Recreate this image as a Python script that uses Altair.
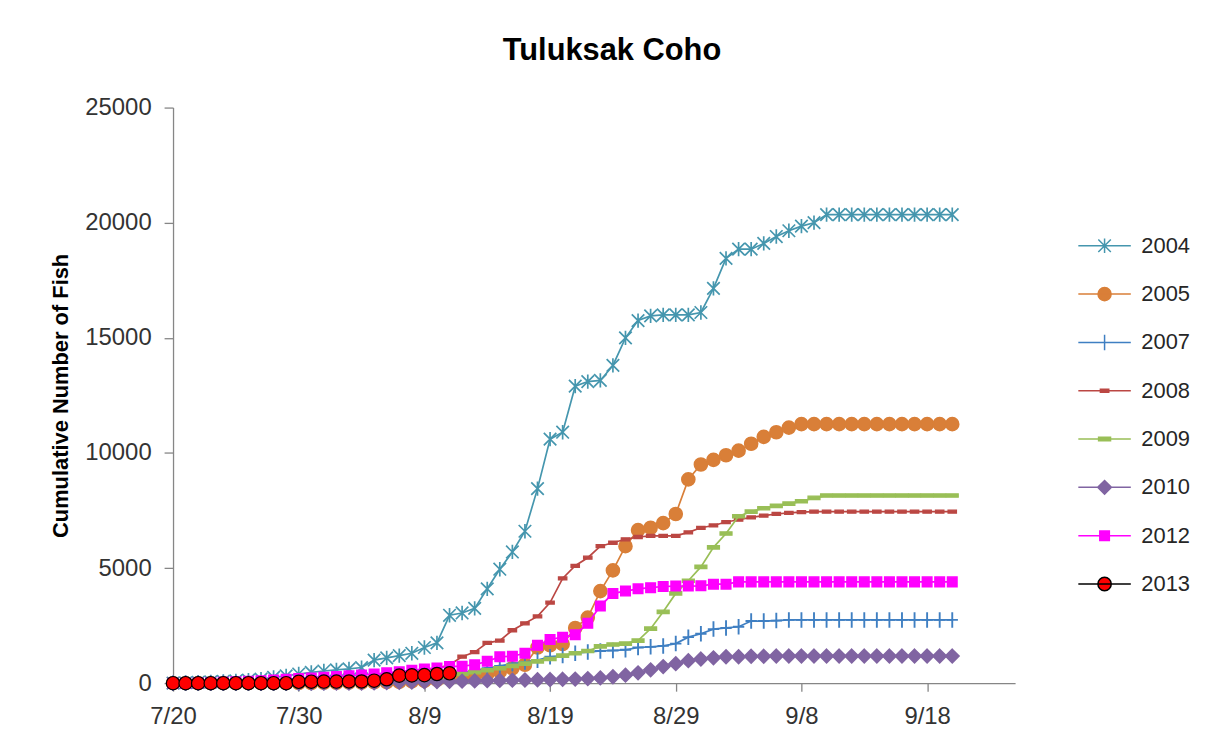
import altair as alt
import pandas as pd

# ---------------- data ----------------
SERIES = ["2004", "2005", "2007", "2008", "2009", "2010", "2012", "2013"]
START = (2013, 7, 20)          # first day of the daily series
AXIS_END = (2013, 9, 25)       # end of the x axis
TICK_LABELS = ["7/20", "7/30", "8/9", "8/19", "8/29", "9/8", "9/18"]
Y_TICKS = [0, 5000, 10000, 15000, 20000, 25000]

V2004 = [0, 20, 40, 60, 80, 100, 130, 180, 250, 320, 400, 470, 530, 580, 620, 680,
         1000, 1100, 1200, 1300, 1550, 1750, 2950, 3050, 3250, 4100, 4950, 5700, 6600, 8450, 10600, 10900,
         12900, 13100, 13150, 13800, 15000, 15750, 15950, 16000, 16000, 16000, 16100, 17150, 18450, 18850, 18850, 19100,
         19400, 19650, 19850, 20000, 20350, 20350, 20350, 20350, 20350, 20350, 20350, 20350, 20350, 20350, 20350]
V2005 = [0, 0, 0, 0, 0, 0, 0, 0, 0, 0, 10, 10, 20, 20, 30, 30, 40, 50, 60, 80,
         100, 150, 200, 250, 300, 400, 500, 650, 800, 1550, 1650, 1700,
         2400, 2850, 4000, 4900, 5950, 6650, 6750, 6950, 7350, 8850, 9500, 9700, 9900, 10100, 10400, 10700,
         10900, 11100, 11250, 11250, 11250, 11250, 11250, 11250, 11250, 11250, 11250, 11250, 11250, 11250, 11250]
V2007 = [0, 0, 0, 0, 0, 0, 0, 0, 0, 0, 10, 20, 30, 40, 50, 60, 70, 80, 90, 100,
         150, 250, 350, 450, 550, 650, 750, 850, 920, 1000, 1150, 1200,
         1300, 1350, 1400, 1420, 1450, 1550, 1580, 1620, 1720, 2000, 2150, 2350, 2400, 2450, 2700, 2700,
         2720, 2750, 2750, 2750, 2750, 2750, 2750, 2750, 2750, 2750, 2750, 2750, 2750, 2750, 2750]
V2008 = [0, 0, 0, 10, 20, 30, 40, 50, 60, 80, 100, 120, 150, 180, 220, 260, 320, 380, 440, 500,
         560, 650, 800, 1150, 1350, 1750, 1850, 2300, 2600, 2900, 3500, 4550,
         5100, 5450, 5950, 6100, 6250, 6350, 6400, 6400, 6400, 6550, 6750, 6850, 7000, 7100, 7200, 7280,
         7350, 7400, 7430, 7450, 7450, 7450, 7450, 7450, 7450, 7450, 7450, 7450, 7450, 7450, 7450]
V2009 = [0, 0, 0, 0, 0, 0, 0, 0, 0, 0, 0, 0, 0, 0, 0, 10, 20, 40, 60, 90,
         150, 250, 330, 400, 480, 560, 650, 750, 850, 950, 1050, 1200,
         1300, 1400, 1600, 1680, 1720, 1850, 2370, 3100, 3900, 4450, 5050, 5900, 6500, 7250, 7450, 7600,
         7700, 7800, 7900, 8050, 8150, 8150, 8150, 8150, 8150, 8150, 8150, 8150, 8150, 8150, 8150]
V2010 = [0, 0, 0, 0, 0, 0, 0, 0, 0, 0, 0, 0, 0, 0, 0, 10, 20, 30, 40, 50,
         60, 70, 80, 90, 100, 110, 120, 130, 140, 150, 160, 170,
         180, 200, 230, 280, 350, 450, 580, 720, 850, 980, 1050, 1100, 1150, 1150, 1170, 1170,
         1180, 1180, 1180, 1180, 1180, 1180, 1180, 1180, 1180, 1180, 1180, 1180, 1180, 1180, 1180]
V2012 = [0, 0, 10, 20, 40, 60, 80, 110, 140, 170, 200, 230, 260, 290, 320, 360,
         400, 450, 500, 560, 620, 660, 720, 740, 800, 950, 1150, 1170, 1300, 1650, 1900, 2000,
         2100, 2600, 3350, 3900, 4000, 4100, 4150, 4200, 4220, 4220, 4230, 4300, 4300, 4400, 4400, 4400,
         4400, 4400, 4400, 4400, 4400, 4400, 4400, 4400, 4400, 4400, 4400, 4400, 4400, 4400, 4400]
V2013 = [0, 0, 0, 0, 0, 0, 0, 0, 0, 0, 60, 65, 70, 70, 75, 75, 110, 170, 330, 340, 350, 400, 430]

VALUES = {"2004": V2004, "2005": V2005, "2007": V2007, "2008": V2008,
          "2009": V2009, "2010": V2010, "2012": V2012, "2013": V2013}

# ---------------- styles ----------------
LINE_COLORS = ["#4596ae", "#d97f38", "#3f7fc2", "#bb4743", "#99bf57", "#8064a2", "#ff00ff", "#000000"]
FILL_COLORS = ["#4596ae", "#d97f38", "#3f7fc2", "#bb4743", "#99bf57", "#8064a2", "#ff00ff", "#ff0000"]
MARKERS = [
    "M-1.05,-1.05L1.05,1.05M-1.05,1.05L1.05,-1.05M0,-1.2L0,1.2",              # asterisk
    "M-1.1,0A1.1,1.1 0 1,0 1.1,0A1.1,1.1 0 1,0 -1.1,0Z",                        # circle
    "M0,-1.3L0,1.3M-0.95,0L0.95,0",                                              # plus
    "M-0.7,-0.25L0.7,-0.25L0.7,0.25L-0.7,0.25Z",                                # short dash
    "M-1,-0.28L1,-0.28L1,0.28L-1,0.28Z",                                         # dash
    "M0,-1.15L1.15,0L0,1.15L-1.15,0Z",                                          # diamond
    "M-0.8,-0.8L0.8,-0.8L0.8,0.8L-0.8,0.8Z",                                    # square
    "M-1.12,0A1.12,1.12 0 1,0 1.12,0A1.12,1.12 0 1,0 -1.12,0Z",                # circle
]
MARKER_STROKE = [1.7, 1.5, 1.9, 1.3, 1.3, 1.5, 1.5, 1.2]
LEGEND_LINE = "M-4.4,0L4.4,0"
LEGEND_SHAPES = [LEGEND_LINE + m for m in MARKERS]
FONT = "Liberation Sans"


def ms(y, m, d):
    return int(pd.Timestamp(year=y, month=m, day=d, tz="UTC").value // 10**6)


start_ms = ms(*START)
DAY = 86400000
rows = []
for s in SERIES:
    for i, v in enumerate(VALUES[s]):
        rows.append({"series": s, "date": start_ms + i * DAY, "count": v})
df = pd.DataFrame(rows)

tick_values = [ms(2013, int(t.split("/")[0]), int(t.split("/")[1])) for t in TICK_LABELS]

x_enc = alt.X(
    "date:T",
    scale=alt.Scale(type="utc", domain=[start_ms, ms(*AXIS_END)]),
    axis=alt.Axis(values=tick_values, format="%-m/%-d", title=None, labelFlush=False,
                  labelOverlap=False, tickSize=8, labelPadding=14),
)
y_enc = alt.Y(
    "count:Q",
    scale=alt.Scale(domain=[0, 25000], nice=False),
    axis=alt.Axis(values=Y_TICKS, format="d", title="Cumulative Number of Fish",
                  tickSize=9, labelPadding=13, titleAngle=-90, titleX=-113, titleY=289.5,
                  titleAlign="center", titleBaseline="middle", titleFontWeight="bold",
                  titleFontSize=22, titleColor="#000000"),
)

base = alt.Chart().encode(x=x_enc, y=y_enc)

layers = []
for i, s in enumerate(SERIES):
    sub = base.transform_filter(alt.datum.series == s)
    layers.append(sub.mark_line(color=LINE_COLORS[i], strokeWidth=1.7))
    layers.append(sub.mark_point(shape=MARKERS[i], size=144, filled=True, fill=FILL_COLORS[i],
                                 stroke=LINE_COLORS[i], strokeWidth=MARKER_STROKE[i], opacity=1))

legend_layer = base.mark_point(size=144, filled=True, strokeWidth=1.5).encode(
    shape=alt.Shape("series:N", scale=alt.Scale(domain=SERIES, range=LEGEND_SHAPES),
                    legend=alt.Legend(title=None, symbolOpacity=1)),
    fill=alt.Fill("series:N", scale=alt.Scale(domain=SERIES, range=FILL_COLORS),
                  legend=alt.Legend(title=None, symbolOpacity=1)),
    stroke=alt.Stroke("series:N", scale=alt.Scale(domain=SERIES, range=LINE_COLORS),
                      legend=alt.Legend(title=None, symbolOpacity=1)),
    opacity=alt.value(0),
)
layers.append(legend_layer)

chart = (
    alt.layer(*layers, data=df)
    .properties(
        width=847, height=579,
        autosize=alt.AutoSizeParams(type="none"),
        padding={"left": 166, "top": 98, "right": 188, "bottom": 60},
        background="white",
        title=alt.TitleParams("Tuluksak Coho", fontSize=31, font=FONT, fontWeight="bold",
                              color="#000000", anchor="middle", offset=29, dx=18),
    )
    .configure_view(stroke=None)
    .configure_axis(grid=False, domainColor="#868686", tickColor="#868686", domainWidth=1.3,
                    tickWidth=1.3, labelFont=FONT, labelFontSize=24, labelColor="#333333",
                    titleFont=FONT)
    .configure_legend(orient="none", legendX=926, legendY=128, symbolSize=144,
                      symbolStrokeWidth=1.5, symbolOpacity=1, labelFont=FONT, labelFontSize=22,
                      labelColor="#262626", labelOffset=26, rowPadding=26.6)
)

chart.save("out.html", embed_options={"renderer": "svg", "actions": False})
